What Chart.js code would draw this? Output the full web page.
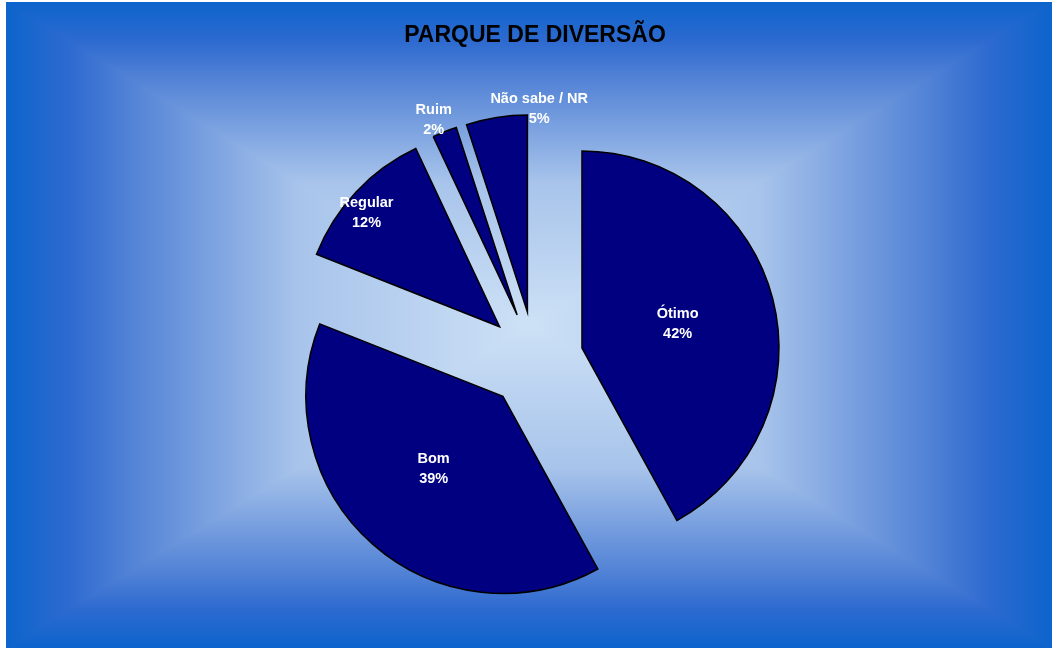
<!DOCTYPE html>
<html>
<head>
<meta charset="utf-8">
<script src="https://cdn.jsdelivr.net/npm/chart.js@4/dist/chart.umd.min.js"></script>
<style>
  html, body { margin: 0; padding: 0; background: #ffffff; }
  canvas { display: block; }
</style>
</head>
<body>
<canvas id="c" width="1052" height="648"></canvas>
<script>
// ---- data ----
const categories = ['Ótimo', 'Bom', 'Regular', 'Ruim', 'Não sabe / NR'];
const values = [42, 39, 12, 2, 5];
const percentLabels = ['42%', '39%', '12%', '2%', '5%'];
const chartTitle = 'PARQUE DE DIVERSÃO';

// ---- label placement (fraction of radius along slice middle, angle nudge in degrees) ----
const labelRadiusFactor = [0.50, 0.51, 0.89, 1.075, 1.035];
const labelAngleNudge = [0.6, 2.2, -2.6, -1.6, 12.3];

const explodeDistance = 48.5;

// rectangular "from center" gradient background
const bgStops = [
  [0.00, 'rgb(205,225,246)'],
  [0.44, 'rgb(168,196,235)'],
  [0.76, 'rgb(83,131,214)'],
  [0.88, 'rgb(45,106,208)'],
  [1.00, 'rgb(12,100,204)']
];

const backgroundPlugin = {
  id: 'rectGradientBg',
  beforeDraw(chart) {
    const ctx = chart.ctx;
    const W = chart.width, H = chart.height;
    ctx.save();
    ctx.fillStyle = '#ffffff';
    ctx.fillRect(0, 0, W, H);
    const x0 = 6, y0 = 2, x1 = W, y1 = H;
    const cx = (x0 + x1) / 2, cy = (y0 + y1) / 2;
    const tri = (pts, gx0, gy0, gx1, gy1) => {
      const g = ctx.createLinearGradient(gx0, gy0, gx1, gy1);
      for (const [t, c] of bgStops) g.addColorStop(1 - t, c);
      ctx.beginPath();
      ctx.moveTo(pts[0][0], pts[0][1]);
      for (let i = 1; i < pts.length; i++) ctx.lineTo(pts[i][0], pts[i][1]);
      ctx.closePath();
      ctx.fillStyle = g;
      ctx.strokeStyle = g;
      ctx.lineWidth = 1.5;
      ctx.fill();
      ctx.stroke();
    };
    ctx.save();
    ctx.beginPath();
    ctx.rect(x0, y0, x1 - x0, y1 - y0);
    ctx.clip();
    tri([[x0, y0], [x1, y0], [cx, cy]], cx, y0, cx, cy);
    tri([[x0, y1], [x1, y1], [cx, cy]], cx, y1, cx, cy);
    tri([[x0, y0], [x0, y1], [cx, cy]], x0, cy, cx, cy);
    tri([[x1, y0], [x1, y1], [cx, cy]], x1, cy, cx, cy);
    ctx.restore();
    ctx.restore();
  }
};

const explodePlugin = {
  id: 'explodeSlices',
  afterDatasetsUpdate(chart) {
    const meta = chart.getDatasetMeta(0);
    meta.data.forEach(el => {
      const mid = (el.startAngle + el.endAngle) / 2;
      el.x += Math.cos(mid) * explodeDistance;
      el.y += Math.sin(mid) * explodeDistance;
    });
  }
};

const labelPlugin = {
  id: 'sliceLabels',
  afterDatasetsDraw(chart) {
    const ctx = chart.ctx;
    const meta = chart.getDatasetMeta(0);
    ctx.save();
    ctx.fillStyle = '#ffffff';
    ctx.font = 'bold 14.5px "Liberation Sans", Arial, sans-serif';
    ctx.textAlign = 'center';
    ctx.textBaseline = 'middle';
    meta.data.forEach((el, i) => {
      const mid = (el.startAngle + el.endAngle) / 2 + labelAngleNudge[i] * Math.PI / 180;
      const r = el.outerRadius * labelRadiusFactor[i];
      const x = el.x + Math.cos(mid) * r;
      const y = el.y + Math.sin(mid) * r;
      ctx.fillText(categories[i], x, y - 10);
      ctx.fillText(percentLabels[i], x, y + 10);
    });
    ctx.restore();
  }
};

new Chart(document.getElementById('c'), {
  type: 'pie',
  data: {
    labels: categories,
    datasets: [{
      data: values,
      backgroundColor: '#000080',
      borderColor: '#000000',
      borderWidth: 1.5,
      borderJoinStyle: 'miter'
    }]
  },
  options: {
    responsive: false,
    animation: false,
    events: [],
    layout: { padding: { left: 18, right: 0, top: 0, bottom: 90.25 } },
    plugins: {
      legend: { display: false },
      tooltip: { enabled: false },
      title: {
        display: true,
        text: chartTitle,
        color: '#000000',
        font: { family: '"Liberation Sans", Arial, sans-serif', size: 23, weight: 'bold', lineHeight: 1.2 },
        padding: { top: 22, bottom: 112.65 }
      }
    }
  },
  plugins: [backgroundPlugin, explodePlugin, labelPlugin]
});
</script>
</body>
</html>
